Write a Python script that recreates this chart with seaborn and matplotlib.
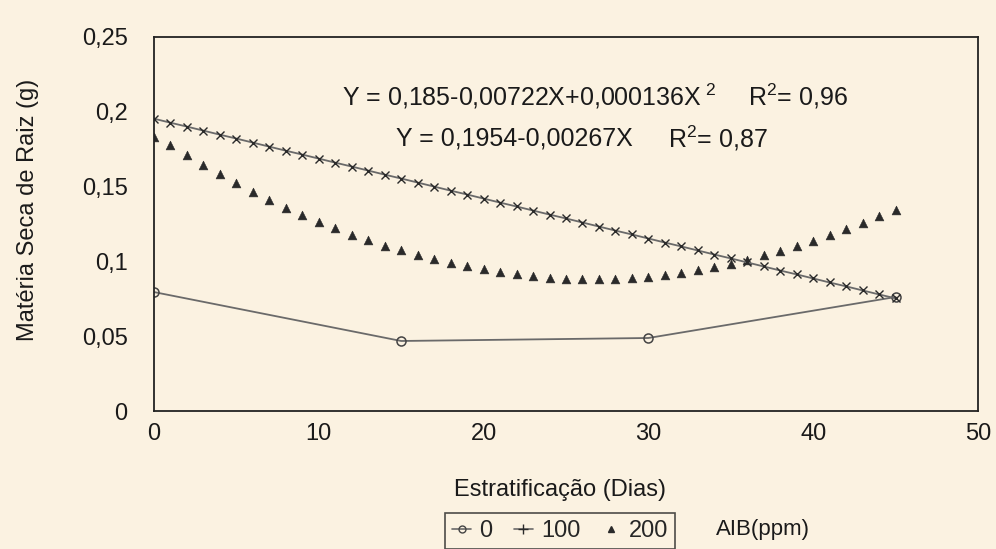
import matplotlib
matplotlib.use("Agg")
import matplotlib.pyplot as plt
import seaborn as sns
import pandas as pd
from matplotlib.lines import Line2D

# ---- data ----
days_0 = [0, 15, 30, 45]
aib_0 = [0.0795, 0.0468, 0.0488, 0.0762]

days = list(range(0, 46))
aib_100 = [0.1954, 0.1927, 0.1901, 0.1874, 0.1847, 0.1821, 0.1794, 0.1767, 0.1740, 0.1714,
           0.1687, 0.1660, 0.1634, 0.1607, 0.1580, 0.1554, 0.1527, 0.1500, 0.1473, 0.1447,
           0.1420, 0.1393, 0.1367, 0.1340, 0.1313, 0.1287, 0.1260, 0.1233, 0.1206, 0.1180,
           0.1153, 0.1126, 0.1100, 0.1073, 0.1046, 0.1020, 0.0993, 0.0966, 0.0939, 0.0913,
           0.0886, 0.0859, 0.0833, 0.0806, 0.0779, 0.0753]
aib_200 = [0.1830, 0.1779, 0.1711, 0.1646, 0.1583, 0.1523, 0.1466, 0.1411, 0.1359, 0.1310,
           0.1264, 0.1220, 0.1179, 0.1141, 0.1106, 0.1073, 0.1043, 0.1016, 0.0991, 0.0969,
           0.0950, 0.0930, 0.0915, 0.0902, 0.0892, 0.0885, 0.0880, 0.0880, 0.0882, 0.0888,
           0.0896, 0.0906, 0.0922, 0.0940, 0.0962, 0.0985, 0.1010, 0.1040, 0.1070, 0.1103,
           0.1138, 0.1176, 0.1217, 0.1260, 0.1306, 0.1345]

x_ticks = [0, 10, 20, 30, 40, 50]
y_ticks = [0, 0.05, 0.1, 0.15, 0.2, 0.25]
y_tick_labels = ["0", "0,05", "0,1", "0,15", "0,2", "0,25"]
legend_labels = ["0", "100", "200"]

BG = "#FBF2E1"
FS = 17
sns.set_style("white", {"axes.facecolor": BG, "figure.facecolor": BG})
plt.rcParams["font.family"] = ["Liberation Sans", "DejaVu Sans"]
plt.rcParams["mathtext.fontset"] = "custom"
plt.rcParams["mathtext.rm"] = "Liberation Sans"
plt.rcParams["mathtext.it"] = "Liberation Sans"
plt.rcParams["mathtext.bf"] = "Liberation Sans:bold"

fig = plt.figure(figsize=(9.96, 5.49), dpi=100)
ax = fig.add_axes([154 / 996, 1 - 411 / 549, (978 - 154) / 996, (411 - 37) / 549])
ax.set_facecolor(BG)

df0 = pd.DataFrame({"d": days_0, "v": aib_0})
df = pd.DataFrame({"d": days, "v100": aib_100, "v200": aib_200})

sns.lineplot(data=df0, x="d", y="v", ax=ax, color="#6a6a6a", linewidth=1.3,
             marker="o", markersize=6.5, markerfacecolor="none",
             markeredgecolor="#444444", markeredgewidth=1.1)
sns.lineplot(data=df, x="d", y="v100", ax=ax, color="#6a6a6a", linewidth=1.3,
             marker="x", markersize=6, markeredgecolor="#2a2a2a",
             markeredgewidth=1.0)
sns.scatterplot(data=df, x="d", y="v200", ax=ax, marker="^", s=40,
                color="#2a2a2a", edgecolor="#2a2a2a", linewidth=0.4)

ax.set_xlim(0, 50)
ax.set_ylim(0, 0.25)
ax.set_xticks(x_ticks)
ax.set_xticklabels([str(t) for t in x_ticks])
ax.set_yticks(y_ticks)
ax.set_yticklabels(y_tick_labels)
ax.tick_params(axis="both", length=0, labelsize=FS, colors="#1a1a1a")
ax.tick_params(axis="y", pad=19)
ax.tick_params(axis="x", pad=9)
ax.set_xlabel("")
ax.set_ylabel("")
for sp in ax.spines.values():
    sp.set_visible(True)
    sp.set_color("#222222")
    sp.set_linewidth(1.3)

# axis labels
fig.text(28 / 996, 1 - 210 / 549, "Matéria Seca de Raiz (g)", rotation=90,
         ha="center", va="center", fontsize=FS, color="#1a1a1a")
fig.text(560 / 996, 1 - 490 / 549, "Estratificação (Dias)", ha="center",
         va="center", fontsize=FS, color="#1a1a1a")

# equations
EQ = 18
def ft(px, py, s, fs=EQ, **kw):
    fig.text(px / 996, 1 - py / 549, s, color="#1a1a1a", va="center",
             fontsize=fs, **kw)

ft(342, 96, r"Y = 0,185-0,00722X+0,000136X$^{\ 2}$")
ft(748, 96, r"R$^{2}$= 0,96")
ft(396, 138, r"Y = 0,1954-0,00267X")
ft(668, 138, r"R$^{2}$= 0,87")

# legend
handles = [
    Line2D([0], [0], color="#6a6a6a", lw=1.2, marker="o", markersize=5,
           markerfacecolor="none", markeredgecolor="#444444"),
    Line2D([0], [0], color="#6a6a6a", lw=1.2, marker="+", markersize=7,
           markeredgecolor="#2a2a2a"),
    Line2D([0], [0], color="none", marker="^", markersize=5,
           markerfacecolor="#2a2a2a", markeredgecolor="#2a2a2a"),
]
leg = fig.legend(handles, legend_labels, loc="upper left",
                 bbox_to_anchor=(445 / 996, 1 - 513 / 549), ncol=3,
                 fontsize=FS, frameon=True, fancybox=False, edgecolor="#222222",
                 facecolor=BG, handlelength=0.8, handletextpad=0.35,
                 columnspacing=0.9, borderpad=0.3, borderaxespad=0)
leg.get_frame().set_linewidth(1.2)
ft(716, 530, "AIB(ppm)", fs=16)

fig.savefig("out.png", dpi=100, facecolor=BG)
